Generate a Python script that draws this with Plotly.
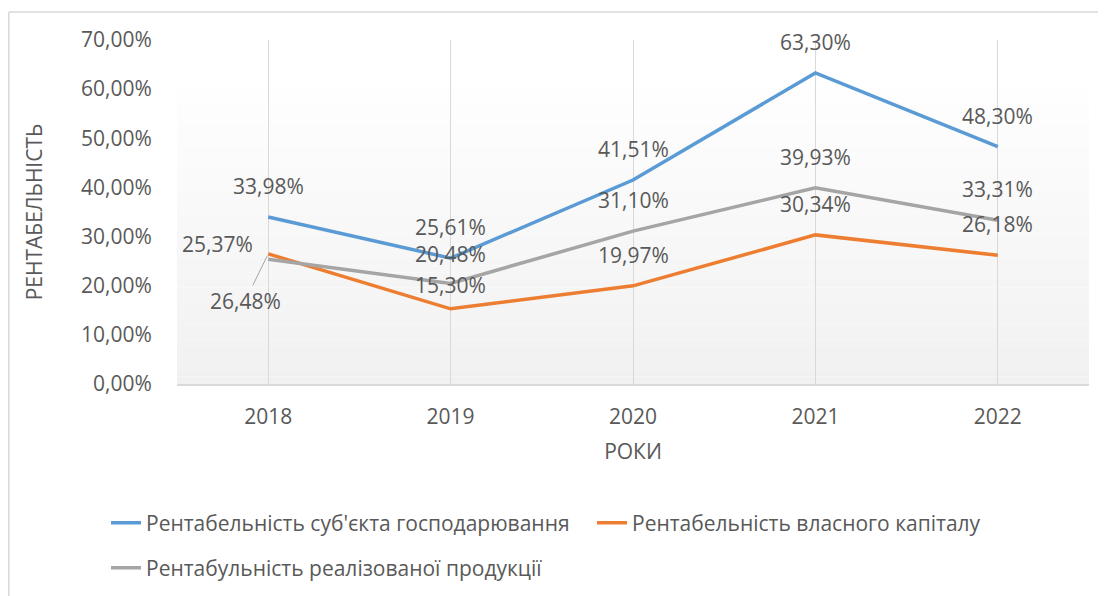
import plotly.graph_objects as go

years = ["2018", "2019", "2020", "2021", "2022"]
s_entity = [33.98, 25.61, 41.51, 63.30, 48.30]
s_equity = [26.48, 15.30, 19.97, 30.34, 26.18]
s_sales = [25.37, 20.48, 31.10, 39.93, 33.31]
names = ["Рентабельність суб'єкта господарювання",
         "Рентабельність власного капіталу",
         "Рентабульність реалізованої продукції"]
colors = ["#5B9BD5", "#ED7D31", "#A5A5A5"]
y_ticks = [0, 10, 20, 30, 40, 50, 60, 70]
y_ticktext = [f"{v:.2f}".replace(".", ",") + "%" for v in y_ticks]

OFF = 8  # page body margin
W_FIG, H_FIG = 1106 - OFF, 596 - OFF
L, T = 177 - OFF, 40 - OFF
R = W_FIG - (1089 - OFF)
B = H_FIG - (384 - OFF)
PW, PH = W_FIG - L - R, H_FIG - T - B
FONT = "Open Sans"
TXT = "#595959"
FS = 21


def px_x(p):  # p: reference screenshot pixel
    return (p - OFF - L) / PW


def px_y(p):
    return (H_FIG - B - (p - OFF)) / PH


fig = go.Figure()
series = [s_entity, s_equity, s_sales]
for i, (vals, nm, c) in enumerate(zip(series, names, colors)):
    fig.add_trace(go.Scatter(
        x=years, y=vals, name=nm, mode="lines",
        line=dict(color=c, width=3.5),
        legend="legend" if i < 2 else "legend2",
        hoverinfo="skip"))


def fmt(v):
    return f"{v:.2f}".replace(".", ",") + "%"


# data labels (label placement tweaks, as in the original)
special = {(1, 0): dict(showarrow=True, ax=-23, ay=47, arrowhead=0, arrowwidth=1,
                        arrowcolor="#A5A5A5", standoff=2),
           (2, 0): dict(xshift=-51, yshift=15),
           (1, 1): dict(yshift=24),
           (2, 1): dict(yshift=29)}
for si, vals in enumerate(series):
    for xi, v in enumerate(vals):
        opts = dict(showarrow=False, yshift=31)
        if (si, xi) in special:
            opts = dict(showarrow=False)
            opts.update(special[(si, xi)])
        fig.add_annotation(x=xi, y=v, xref="x", yref="y", text=fmt(v),
                           font=dict(family=FONT, size=FS, color=TXT), **opts)

shapes = []
# gradient plot background
top_p, bot_p = 87, 384
n = 40
for k in range(n):
    y0 = top_p + (bot_p - top_p) * k / n
    y1 = top_p + (bot_p - top_p) * (k + 1) / n
    t = (k + 0.5) / n
    g = round(254 - (254 - 241) * t)
    shapes.append(dict(type="rect", xref="paper", yref="paper",
                       x0=0, x1=1, y0=px_y(y1), y1=px_y(y0),
                       fillcolor=f"rgb({g},{g},{g})", line=dict(width=0), layer="below"))
# outer frame
shapes.append(dict(type="line", xref="paper", yref="paper", x0=px_x(8.8), x1=px_x(1106),
                   y0=px_y(12), y1=px_y(12), line=dict(color="#D9D9D9", width=1.5)))
shapes.append(dict(type="line", xref="paper", yref="paper", x0=px_x(8.8), x1=px_x(8.8),
                   y0=px_y(12), y1=px_y(596), line=dict(color="#D9D9D9", width=1.5)))

fig.update_layout(
    width=W_FIG, height=H_FIG,
    margin=dict(l=L, r=R, t=T, b=B, autoexpand=False),
    paper_bgcolor="white", plot_bgcolor="rgba(0,0,0,0)",
    font=dict(family=FONT, size=FS, color=TXT),
    shapes=shapes,
    xaxis=dict(type="category", range=[-0.5, 4.5], showgrid=True, gridcolor="#D9D9D9",
               gridwidth=1, showline=True, linecolor="#D9D9D9", linewidth=1.5,
               ticks="outside", ticklen=13, tickcolor="rgba(0,0,0,0)",
               tickfont=dict(family=FONT, size=FS, color=TXT), zeroline=False,
               title=dict(text="РОКИ", font=dict(family=FONT, size=FS, color=TXT), standoff=15)),
    yaxis=dict(range=[0, 70], tickvals=y_ticks, ticktext=y_ticktext, showgrid=False,
               zeroline=False, showline=False, ticks="outside", ticklen=20,
               tickcolor="rgba(0,0,0,0)",
               tickfont=dict(family=FONT, size=FS, color=TXT),
               title=dict(text="РЕНТАБЕЛЬНІСТЬ", font=dict(family=FONT, size=FS, color=TXT),
                          standoff=32)),
    legend=dict(orientation="h", x=px_x(106), xanchor="left", y=px_y(523), yanchor="middle",
                font=dict(family=FONT, size=FS, color=TXT), entrywidth=441,
                bgcolor="rgba(0,0,0,0)"),
    legend2=dict(orientation="h", x=px_x(106), xanchor="left", y=px_y(568), yanchor="middle",
                 font=dict(family=FONT, size=FS, color=TXT),
                 bgcolor="rgba(0,0,0,0)"),
)

fig.write_html("out.html")
